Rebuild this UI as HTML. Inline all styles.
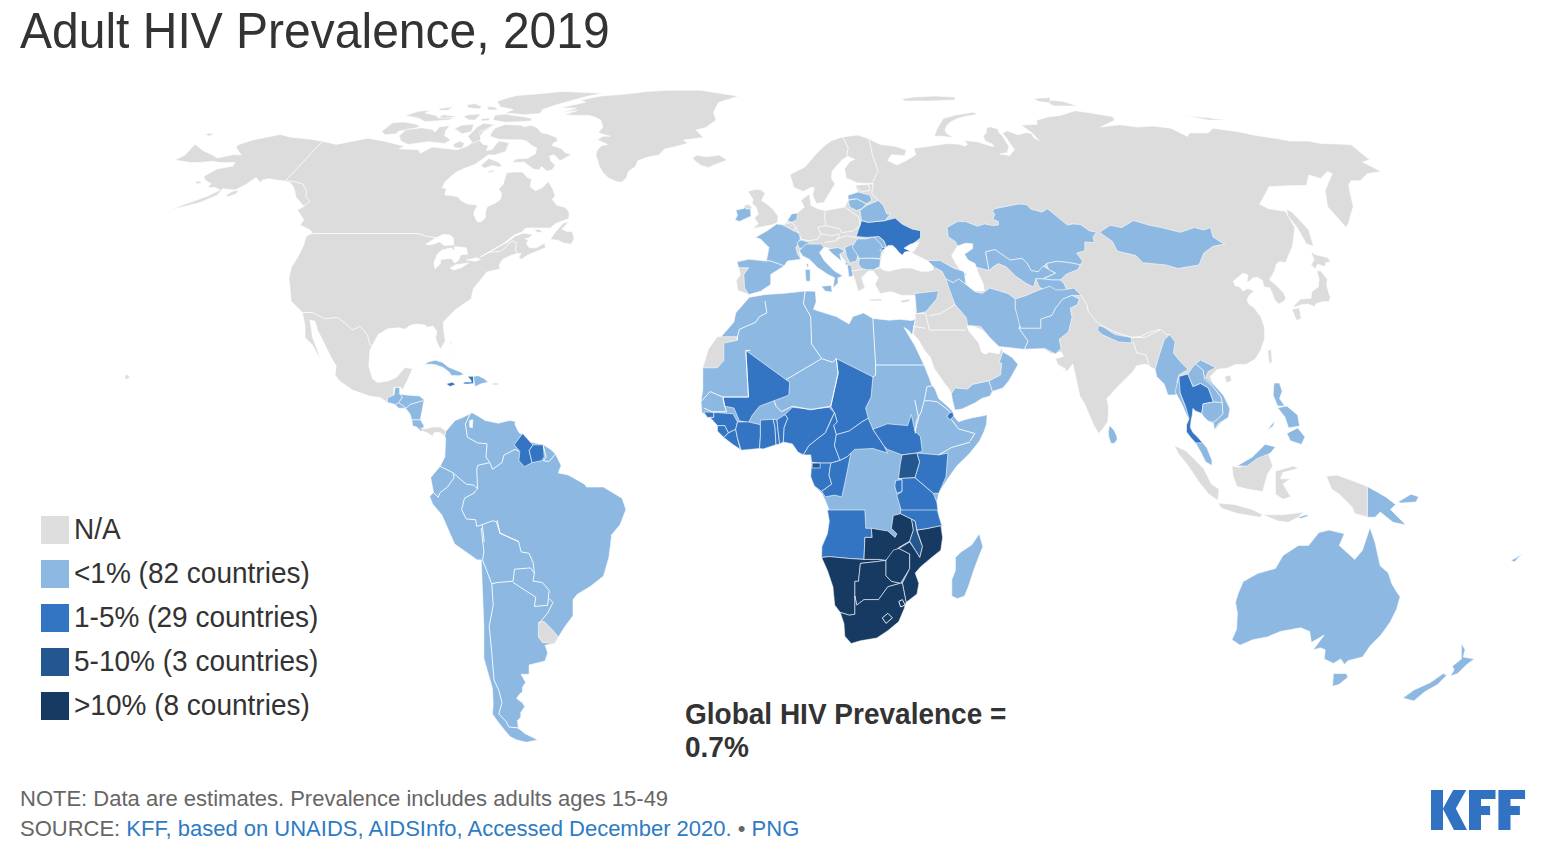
<!DOCTYPE html>
<html><head><meta charset="utf-8"><title>Adult HIV Prevalence, 2019</title><style>
html,body{margin:0;padding:0;background:#fff;width:1545px;height:864px;overflow:hidden;position:relative;font-family:"Liberation Sans",sans-serif}
.t{position:absolute;white-space:nowrap;line-height:1}
svg{position:absolute;left:0;top:0}
.sw{position:absolute;left:41px;width:28px;height:28px}
.lg{position:absolute;left:74px;font-size:28px;color:#333;white-space:nowrap;line-height:1;transform:scaleY(1.07);transform-origin:0 23.7px}
.ft{position:absolute;left:20px;font-size:22px;color:#666;white-space:nowrap;line-height:1;transform:scaleY(1.0);transform-origin:0 18.6px}
.ft a{color:#2d7bc4;text-decoration:none}
</style></head><body>
<svg width="1545" height="864" viewBox="0 0 1545 864">
<path d="M175.0,160.0L185.0,155.0L195.0,144.2L203.0,150.5L212.5,155.0L217.5,158.0L233.8,154.5L241.2,155.0L236.2,147.5L237.5,145.0L252.5,140.0L265.0,137.5L280.0,134.5L290.0,137.0L310.0,139.2L322.5,141.2L336.2,144.4L367.7,138.3L383.4,140.9L404.4,146.2L399.1,148.8L418.4,149.7L420.1,153.2L432.3,147.0L456.8,149.7L467.3,146.2L474.3,140.9L477.8,132.2L476.0,126.9L484.8,123.4L495.2,124.3L483.0,132.2L478.6,139.2L483.0,144.4L488.3,145.3L486.5,150.5L491.8,149.7L498.7,140.9L509.2,142.7L505.7,151.4L495.2,154.9L488.3,154.9L474.8,164.5L465.4,168.0L457.3,171.5L451.5,176.1L445.0,181.9L442.1,187.8L446.2,188.4L445.0,195.3L450.3,195.3L458.4,197.1L460.8,200.6L467.8,204.1L475.9,204.7L477.1,206.4L474.8,209.9L473.6,214.6L477.1,221.6L480.6,222.1L485.2,218.1L485.8,209.9L487.6,206.4L495.7,202.9L500.4,199.4L501.6,193.6L498.6,188.9L503.3,184.3L505.1,177.3L506.8,172.6L513.2,172.0L522.5,172.0L527.2,177.3L531.8,179.0L530.1,186.6L535.3,190.7L542.3,187.8L548.2,181.4L552.8,188.9L555.2,195.9L552.2,199.4L556.9,205.2L565.6,207.6L569.1,212.2L568.9,218.6L556.1,223.3L550.3,228.0L525.8,228.0L521.8,232.0L514.2,235.0L504.9,242.5L505.4,243.7L515.3,236.1L523.5,233.2L532.8,234.4L528.2,238.4L524.7,238.4L528.2,240.2L526.4,243.7L529.3,247.8L536.3,247.8L544.5,243.1L545.6,247.8L528.2,254.8L521.2,259.4L518.8,257.1L521.2,253.6L516.5,253.6L509.5,255.9L502.5,259.4L499.0,265.2L500.2,268.7L495.5,269.9L486.2,272.2L483.9,275.7L479.2,281.6L473.4,288.5L471.1,299.0L467.5,301.2L455.0,310.0L443.2,322.2L443.8,330.5L445.2,340.8L440.5,349.5L437.0,342.5L435.5,337.0L437.0,331.5L433.0,326.0L427.5,327.2L424.8,325.0L417.5,324.0L411.0,325.0L404.5,329.2L399.0,327.8L387.8,328.8L378.5,334.2L374.8,340.8L370.0,350.0L368.8,366.2L372.5,378.8L377.5,382.5L387.5,381.2L396.2,377.5L405.0,367.5L412.5,368.8L407.5,380.0L403.8,387.5L402.5,390.0L400.0,387.0L393.8,387.5L393.8,396.2L387.5,402.5L380.0,397.5L370.0,396.2L352.5,390.0L340.0,381.2L335.0,375.0L336.2,366.2L331.2,357.5L323.8,342.5L317.5,330.0L315.0,321.2L310.0,320.0L312.5,337.5L317.5,350.0L320.5,360.0L312.5,345.0L305.0,337.5L305.0,326.2L302.5,312.5L291.2,301.2L290.0,287.5L288.8,278.8L291.2,267.5L297.5,257.5L303.8,245.0L306.2,236.2L312.5,233.0L310.0,230.0L300.0,225.0L303.8,220.0L297.5,210.0L303.8,206.2L296.2,197.5L293.8,187.5L290.0,182.5L285.0,181.2L268.8,178.8L262.5,180.0L260.0,182.5L256.2,177.5L245.0,185.0L235.0,190.0L222.5,188.8L217.5,195.0L200.0,202.5L180.0,207.5L170.0,210.5L182.5,205.0L207.5,196.2L220.0,190.0L215.0,187.5L207.5,187.5L211.2,183.8L205.0,180.0L203.8,176.2L217.5,168.8L232.5,166.2L235.0,162.5L220.0,162.5L212.5,161.2L200.0,162.5L190.0,162.5Z" fill="#dcdcdc" stroke="#fff" stroke-width="0.6" stroke-linejoin="round"/>
<path d="M425.6,244.3L435.0,238.4L443.1,234.4L450.1,235.0L453.6,238.4L453.6,244.9L444.3,245.4L439.6,241.9L430.3,244.9Z" fill="#fff" stroke="#fff" stroke-width="0.6" stroke-linejoin="round"/>
<path d="M437.3,254.2L441.9,250.1L451.3,247.8L454.8,251.3L451.3,258.3L440.8,259.4L440.2,264.1L435.0,268.7L433.8,262.9Z" fill="#fff" stroke="#fff" stroke-width="0.6" stroke-linejoin="round"/>
<path d="M454.2,246.6L466.4,247.8L467.6,254.2L460.6,254.8L458.3,260.6L454.8,262.9L451.3,258.3L454.8,251.3Z" fill="#fff" stroke="#fff" stroke-width="0.6" stroke-linejoin="round"/>
<path d="M450.1,268.2L455.9,264.7L468.7,262.9L461.7,267.6L453.6,269.9Z" fill="#fff" stroke="#fff" stroke-width="0.6" stroke-linejoin="round"/>
<path d="M466.4,260.0L476.9,257.7L480.4,259.4L475.7,261.2Z" fill="#fff" stroke="#fff" stroke-width="0.6" stroke-linejoin="round"/>
<path d="M550.3,239.6L555.0,232.6L563.1,223.3L568.9,221.6L561.9,229.1L566.6,231.5L572.4,231.5L574.2,238.4L571.3,244.3L563.1,243.1L558.5,240.2Z" fill="#dcdcdc" stroke="#fff" stroke-width="0.6" stroke-linejoin="round"/>
<path d="M534.0,229.1L539.8,229.7L542.7,232.0L537.5,232.6Z" fill="#dcdcdc" stroke="#fff" stroke-width="0.6" stroke-linejoin="round"/>
<path d="M490.7,133.9L494.8,128.1L505.2,124.6L521.6,125.2L523.9,126.9L530.9,125.2L536.7,127.5L541.4,132.8L547.2,133.9L556.5,137.4L557.7,140.9L553.0,143.3L552.4,145.6L562.3,149.1L564.7,152.6L571.1,154.3L567.0,157.2L560.0,160.7L554.2,154.9L549.5,156.1L550.7,160.7L555.3,165.4L551.8,170.1L547.2,171.2L541.4,166.6L539.0,170.1L533.2,168.9L528.5,165.4L523.9,161.9L512.2,162.5L515.7,159.0L527.4,158.4L535.5,153.7L536.7,147.9L532.0,145.6L526.2,140.9L521.6,139.8L512.2,139.8L498.3,139.2L490.1,136.3Z" fill="#dcdcdc" stroke="#fff" stroke-width="0.6" stroke-linejoin="round"/>
<path d="M480.8,165.4L488.9,158.4L498.3,161.9L502.3,166.0L498.3,167.1L492.4,165.4L484.3,168.3Z" fill="#dcdcdc" stroke="#fff" stroke-width="0.6" stroke-linejoin="round"/>
<path d="M487.2,171.8L493.6,170.1L494.8,171.2L488.9,173.0Z" fill="#dcdcdc" stroke="#fff" stroke-width="0.6" stroke-linejoin="round"/>
<path d="M493.0,120.0L494.8,115.3L505.2,114.1L521.6,116.5L532.0,118.2L530.9,121.1L519.2,121.7L505.2,122.3Z" fill="#dcdcdc" stroke="#fff" stroke-width="0.6" stroke-linejoin="round"/>
<path d="M497.1,101.3L509.9,97.2L516.9,95.5L544.9,93.2L562.3,91.4L603.1,93.2L585.6,96.7L556.5,104.8L542.5,109.5L540.2,113.5L523.9,114.7L505.2,113.0L513.4,109.5L500.6,107.1Z" fill="#dcdcdc" stroke="#fff" stroke-width="0.6" stroke-linejoin="round"/>
<path d="M440.0,109.5L452.8,106.6L447.0,110.0Z" fill="#dcdcdc" stroke="#fff" stroke-width="0.6" stroke-linejoin="round"/>
<path d="M466.8,104.8L475.0,103.6L481.9,106.6L479.6,108.9L468.0,107.7Z" fill="#dcdcdc" stroke="#fff" stroke-width="0.6" stroke-linejoin="round"/>
<path d="M486.6,106.6L494.8,107.1L497.7,110.0L488.9,110.0Z" fill="#dcdcdc" stroke="#fff" stroke-width="0.6" stroke-linejoin="round"/>
<path d="M443.5,114.7L455.1,116.2L449.3,120.0L440.0,120.0L440.0,116.5Z" fill="#dcdcdc" stroke="#fff" stroke-width="0.6" stroke-linejoin="round"/>
<path d="M463.3,116.5L468.0,114.7L480.8,114.1L475.0,120.0L469.1,120.0Z" fill="#dcdcdc" stroke="#fff" stroke-width="0.6" stroke-linejoin="round"/>
<path d="M480.8,118.8L488.9,117.9L489.5,120.5L481.9,120.9Z" fill="#dcdcdc" stroke="#fff" stroke-width="0.6" stroke-linejoin="round"/>
<path d="M454.6,128.7L461.0,125.2L473.8,124.0L471.5,131.6L462.1,133.9Z" fill="#dcdcdc" stroke="#fff" stroke-width="0.6" stroke-linejoin="round"/>
<path d="M477.3,126.9L483.1,123.4L494.8,124.6L486.6,128.7L479.6,131.6L480.8,139.8L472.6,143.3L468.0,136.3Z" fill="#dcdcdc" stroke="#fff" stroke-width="0.6" stroke-linejoin="round"/>
<path d="M452.8,144.4L459.8,140.9L464.5,143.3L462.1,147.9L455.1,147.9Z" fill="#dcdcdc" stroke="#fff" stroke-width="0.6" stroke-linejoin="round"/>
<path d="M381.7,131.3L393.0,122.6L404.4,122.0L416.6,124.3L420.1,126.9L407.9,129.6L399.1,131.3L395.6,133.9L385.1,134.8Z" fill="#dcdcdc" stroke="#fff" stroke-width="0.6" stroke-linejoin="round"/>
<path d="M399.1,135.7L406.1,129.6L421.8,127.8L432.3,129.6L435.0,132.2L439.3,126.9L449.8,125.5L445.4,131.3L444.6,135.7L450.7,140.1L444.6,143.5L428.8,141.8L407.9,144.4L400.9,140.9Z" fill="#dcdcdc" stroke="#fff" stroke-width="0.6" stroke-linejoin="round"/>
<path d="M405.2,115.6L418.4,111.2L430.6,110.3L425.3,113.0L435.8,115.6L439.3,118.2L455.1,117.3L448.1,120.0L425.3,121.7L418.4,118.2Z" fill="#dcdcdc" stroke="#fff" stroke-width="0.6" stroke-linejoin="round"/>
<path d="M439.3,108.6L453.3,106.8L448.1,110.3L439.3,110.3Z" fill="#dcdcdc" stroke="#fff" stroke-width="0.6" stroke-linejoin="round"/>
<path d="M560.4,107.7L585.4,102.2L580.8,100.1L600.6,96.1L623.9,94.3L647.2,91.4L668.2,90.2L700.8,90.2L738.5,96.2L718.5,102.5L713.5,112.5L716.0,120.0L706.0,127.5L696.0,130.0L703.5,137.5L683.5,140.0L688.0,143.3L675.2,146.7L664.7,149.1L658.8,154.9L647.2,157.2L637.9,160.7L635.5,166.6L628.5,171.2L626.2,178.2L621.6,182.3L616.9,181.7L608.7,178.2L602.9,172.4L599.4,166.6L595.9,154.9L597.1,150.2L601.7,145.6L607.6,144.4L597.1,139.8L602.9,136.3L609.9,136.3L598.3,132.8L602.9,126.9L600.6,120.0L595.9,117.6L588.9,115.3L575.0,115.5L564.5,114.7L577.3,110.6L561.0,112.4L576.1,108.3Z" fill="#dcdcdc" stroke="#fff" stroke-width="0.6" stroke-linejoin="round"/>
<path d="M692.6,157.8L697.3,154.9L701.9,156.1L706.6,156.7L720.0,154.9L721.0,156.2L727.2,160.0L711.0,166.2L708.9,167.7L700.8,165.4L696.1,161.9Z" fill="#dcdcdc" stroke="#fff" stroke-width="0.6" stroke-linejoin="round"/>
<path d="M387.5,397.8L394.1,395.0L395.0,387.5L399.7,387.5L399.7,394.1L406.3,395.0L419.4,396.0L424.1,399.7L422.2,410.0L420.4,419.4L424.1,426.0L421.3,431.6L416.6,426.9L412.8,426.0L411.9,420.4L410.0,413.8L405.3,408.2L398.8,408.2L395.0,404.4L387.5,402.5Z" fill="#8cb8e1" stroke="#fff" stroke-width="0.6" stroke-linejoin="round"/>
<path d="M420.4,427.9L425.0,428.8L433.5,426.9L440.1,426.9L445.7,430.7L444.8,436.3L440.1,432.6L434.4,432.6L432.6,436.3L426.9,432.6L423.5,431.6Z" fill="#dcdcdc" stroke="#fff" stroke-width="0.6" stroke-linejoin="round"/>
<path d="M423.7,365.3L428.6,361.8L435.5,360.3L442.5,362.4L448.3,367.0L455.2,369.9L461.0,372.2L463.9,374.5L458.7,375.7L451.2,375.4L449.4,372.2L443.1,367.6L435.5,364.7L428.6,364.1Z" fill="#8cb8e1" stroke="#fff" stroke-width="0.6" stroke-linejoin="round"/>
<path d="M446.2,383.8L452.5,382.2L455.5,384.5L450.0,386.5Z" fill="#3375c3" stroke="#fff" stroke-width="0.6" stroke-linejoin="round"/>
<path d="M467.9,376.3L473.5,376.3L473.5,383.5L467.9,384.1L463.1,383.8L464.2,382.1L471.4,382.1L470.5,379.5L468.9,378.0Z" fill="#3375c3" stroke="#fff" stroke-width="0.6" stroke-linejoin="round"/>
<path d="M473.5,376.3L478.3,375.7L484.1,378.6L488.2,382.3L481.8,383.5L474.9,386.7Z" fill="#8cb8e1" stroke="#fff" stroke-width="0.6" stroke-linejoin="round"/>
<path d="M492.5,383.0L498.8,383.0L498.0,385.0L492.5,385.0Z" fill="#dcdcdc" stroke="#fff" stroke-width="0.6" stroke-linejoin="round"/>
<path d="M444.8,436.3L445.7,431.6L455.1,420.4L462.6,417.5L472.0,412.8L477.6,415.7L485.1,420.4L498.2,423.2L509.5,420.4L515.1,421.3L515.1,425.0L518.9,432.6L524.5,436.3L530.2,441.9L543.3,444.8L550.8,449.4L555.5,454.1L561.1,465.4L558.3,472.9L567.7,474.8L571.4,476.7L584.6,484.2L586.5,487.0L603.3,487.0L622.1,498.2L625.9,509.5L620.2,524.5L610.9,535.8L611.6,536.0L608.9,557.3L603.6,575.9L590.3,586.5L577.0,594.5L573.0,599.8L573.0,615.8L565.0,626.4L558.4,637.1L554.4,643.7L545.1,645.1L547.7,653.0L545.1,661.0L529.1,665.0L529.1,674.3L521.1,674.3L525.6,682.4L522.4,687.3L522.4,692.1L519.1,694.6L516.7,698.6L522.4,702.7L524.8,706.7L520.8,712.4L520.8,717.2L517.5,720.5L518.3,727.8L524.8,733.4L537.8,739.9L526.4,742.3L516.7,739.9L510.2,736.7L504.6,730.2L498.1,722.1L492.4,714.0L493.2,704.3L492.4,688.1L490.0,680.0L483.9,658.4L483.9,626.4L481.2,559.9L477.2,559.9L454.6,543.9L441.9,515.1L432.6,503.9L429.7,496.4L433.5,492.6L430.7,477.6L440.1,466.3L444.8,457.0L445.7,438.2Z" fill="#8cb8e1" stroke="#fff" stroke-width="0.6" stroke-linejoin="round"/>
<path d="M469.7,420.4L472.9,419.8L472.3,427.9L469.7,426.9Z" fill="#fff" stroke="#fff" stroke-width="0.6" stroke-linejoin="round"/>
<path d="M514.2,444.8L522.6,433.5L530.2,441.9L533.0,444.8L529.2,450.4L532.0,462.6L524.5,466.7L518.9,460.7L519.8,451.3Z" fill="#3375c3" stroke="#fff" stroke-width="0.6" stroke-linejoin="round"/>
<path d="M533.0,444.8L543.3,444.8L544.2,457.0L541.4,460.7L532.0,462.6L529.2,450.4Z" fill="#3375c3" stroke="#fff" stroke-width="0.6" stroke-linejoin="round"/>
<path d="M538.4,622.4L543.7,621.1L551.7,629.1L558.4,637.1L554.4,643.7L542.4,642.4L538.4,637.1Z" fill="#dcdcdc" stroke="#fff" stroke-width="0.6" stroke-linejoin="round"/>
<path d="M748.5,297.4L765.0,294.6L785.1,293.2L805.2,291.0L815.3,291.3L816.2,301.9L813.4,309.3L821.7,312.0L836.3,316.6L849.1,323.9L852.8,316.6L863.7,312.9L872.9,318.4L889.3,320.2L900.3,319.3L911.3,320.6L915.3,319.3L912.2,334.9L908.5,330.3L904.0,327.5L914.9,345.8L924.1,365.0L929.6,378.8L931.6,384.4L935.1,389.1L938.6,398.4L946.8,405.5L952.6,411.3L953.8,416.0L958.4,421.8L965.5,419.5L972.5,417.7L981.8,416.0L987.1,414.8L986.5,424.2L984.2,431.2L979.5,441.0L970.0,453.0L957.0,465.8L947.9,478.6L938.7,493.3L936.9,502.4L938.7,517.0L942.4,526.2L941.7,525.5L942.6,537.4L940.8,550.2L931.7,557.5L920.7,566.7L915.2,573.1L918.9,583.2L917.0,594.1L906.1,602.4L904.2,608.8L898.8,621.6L887.8,630.7L876.8,638.0L860.4,640.8L851.2,643.5L844.8,636.2L843.9,623.4L840.2,612.4L834.7,605.1L832.9,586.8L827.4,570.4L821.6,557.5L821.9,546.6L827.4,533.8L829.3,521.0L827.4,510.0L829.0,509.7L825.3,500.6L821.7,493.3L814.4,486.0L810.7,476.8L811.6,464.0L810.7,454.9L805.2,454.9L797.9,451.2L792.4,443.9L785.1,442.1L774.1,445.7L759.5,448.5L741.2,450.3L735.7,445.7L724.7,436.6L717.4,425.6L710.1,416.5L701.9,412.8L701.0,401.6L702.8,389.7L702.8,367.8L708.3,349.5L717.4,336.7L721.1,336.7L733.9,322.1L735.7,312.9L748.5,298.3Z" fill="#8cb8e1" stroke="#fff" stroke-width="0.6" stroke-linejoin="round"/>
<path d="M951.8,596.0L951.8,579.5L955.4,570.4L955.4,557.5L960.9,552.1L971.9,544.7L979.2,533.8L982.9,546.6L979.2,555.7L973.7,570.4L968.3,586.8L964.6,596.0L957.3,598.7Z" fill="#8cb8e1" stroke="#fff" stroke-width="0.6" stroke-linejoin="round"/>
<path d="M717.4,336.7L737.5,336.7L736.6,340.4L723.8,343.1L723.8,360.5L717.4,367.8L702.8,367.8L708.3,349.5Z" fill="#dcdcdc" stroke="#fff" stroke-width="0.6" stroke-linejoin="round"/>
<path d="M745.8,350.4L786.0,379.7L789.7,382.4L788.8,395.2L774.1,400.7L759.5,406.2L752.2,415.3L748.5,422.6L739.4,420.8L733.9,408.0L724.7,406.2L722.9,397.0L748.5,397.0Z" fill="#3375c3" stroke="#fff" stroke-width="0.6" stroke-linejoin="round"/>
<path d="M836.3,358.6L872.9,376.9L871.1,397.0L865.6,408.0L868.3,418.3L861.9,421.9L849.1,431.1L836.3,434.7L833.6,425.6L837.2,421.9L834.5,412.8L830.8,406.2L838.1,373.3Z" fill="#3375c3" stroke="#fff" stroke-width="0.6" stroke-linejoin="round"/>
<path d="M703.7,411.9L713.8,412.4L713.8,417.4L707.4,417.4Z" fill="#3375c3" stroke="#fff" stroke-width="0.6" stroke-linejoin="round"/>
<path d="M713.8,412.4L733.0,413.7L737.5,421.9L735.7,429.3L728.4,432.9L724.7,425.6L717.4,425.6L710.1,417.4L713.8,417.4Z" fill="#3375c3" stroke="#fff" stroke-width="0.6" stroke-linejoin="round"/>
<path d="M717.4,425.6L724.7,425.6L728.4,432.9L723.8,437.5L717.4,431.1Z" fill="#3375c3" stroke="#fff" stroke-width="0.6" stroke-linejoin="round"/>
<path d="M723.8,437.5L728.4,432.9L735.7,429.3L737.5,438.4L740.3,449.4L732.1,443.9Z" fill="#3375c3" stroke="#fff" stroke-width="0.6" stroke-linejoin="round"/>
<path d="M737.5,421.9L748.5,421.9L760.4,424.7L760.4,436.6L759.5,448.5L741.2,450.3L737.5,438.4L735.7,429.3Z" fill="#3375c3" stroke="#fff" stroke-width="0.6" stroke-linejoin="round"/>
<path d="M760.4,420.1L773.2,419.2L775.0,427.4L776.0,444.8L763.2,449.0L759.5,448.5L760.4,436.6Z" fill="#3375c3" stroke="#fff" stroke-width="0.6" stroke-linejoin="round"/>
<path d="M773.2,419.2L776.9,419.8L779.6,443.9L776.0,444.8L775.0,427.4Z" fill="#3375c3" stroke="#fff" stroke-width="0.6" stroke-linejoin="round"/>
<path d="M776.9,419.8L785.1,414.6L787.8,418.3L784.2,427.4L783.3,442.1L779.6,443.9Z" fill="#3375c3" stroke="#fff" stroke-width="0.6" stroke-linejoin="round"/>
<path d="M785.1,414.6L792.4,407.3L810.7,409.1L829.0,407.3L834.5,412.8L830.8,420.1L825.3,432.9L818.0,438.4L808.9,445.7L803.4,454.9L797.9,452.1L792.4,443.9L783.3,442.1L784.2,427.4L787.8,418.3Z" fill="#3375c3" stroke="#fff" stroke-width="0.6" stroke-linejoin="round"/>
<path d="M803.4,454.9L808.9,445.7L818.0,438.4L825.3,432.9L834.5,412.8L837.2,421.9L833.6,425.6L836.3,434.7L834.5,445.7L840.0,460.4L830.8,463.1L818.0,463.1L811.6,462.2L810.7,454.9L805.2,454.9Z" fill="#3375c3" stroke="#fff" stroke-width="0.6" stroke-linejoin="round"/>
<path d="M836.3,434.7L849.1,431.1L861.9,421.9L868.3,418.3L872.9,429.3L883.9,445.7L887.5,453.0L872.9,448.5L854.6,449.4L847.3,456.7L840.0,460.4L834.5,445.7Z" fill="#3375c3" stroke="#fff" stroke-width="0.6" stroke-linejoin="round"/>
<path d="M872.9,429.3L887.5,423.8L907.6,425.6L911.3,414.6L914.9,431.1L920.4,436.6L922.3,451.2L916.8,453.0L902.1,454.9L887.5,449.4L883.9,445.7Z" fill="#3375c3" stroke="#fff" stroke-width="0.6" stroke-linejoin="round"/>
<path d="M916.8,453.0L938.7,454.9L947.9,453.0L946.0,476.8L938.7,493.3L933.2,493.3L914.9,477.7L919.5,462.2Z" fill="#3375c3" stroke="#fff" stroke-width="0.6" stroke-linejoin="round"/>
<path d="M902.1,454.9L916.8,453.0L919.5,462.2L914.9,477.7L898.5,478.6L900.3,464.0Z" fill="#24578f" stroke="#fff" stroke-width="0.6" stroke-linejoin="round"/>
<path d="M895.7,480.5L902.1,479.6L902.1,491.4L896.7,493.3L894.8,486.0Z" fill="#3375c3" stroke="#fff" stroke-width="0.6" stroke-linejoin="round"/>
<path d="M898.5,478.6L914.9,477.7L933.2,493.3L936.9,502.4L938.7,517.0L942.4,526.2L920.4,529.8L913.1,524.4L902.1,513.4L896.7,495.1L902.1,491.4L902.1,479.6Z" fill="#3375c3" stroke="#fff" stroke-width="0.6" stroke-linejoin="round"/>
<path d="M811.6,463.1L830.8,463.1L829.0,475.0L831.7,484.1L821.7,491.4L814.4,486.0L810.7,476.8Z" fill="#3375c3" stroke="#fff" stroke-width="0.6" stroke-linejoin="round"/>
<path d="M830.8,463.1L840.0,460.4L847.3,456.7L850.9,453.0L845.4,480.5L841.8,496.9L834.5,495.1L825.3,496.9L821.7,491.4L831.7,484.1L829.0,475.0Z" fill="#3375c3" stroke="#fff" stroke-width="0.6" stroke-linejoin="round"/>
<path d="M812.2,463.1L820.2,463.1L820.2,468.0L812.2,468.0Z" fill="#24578f" stroke="#fff" stroke-width="0.6" stroke-linejoin="round"/>
<path d="M827.4,510.0L864.9,510.0L865.8,528.3L871.3,528.3L872.2,537.4L864.9,537.4L864.0,559.4L849.4,558.5L829.3,556.6L821.6,557.5L821.9,546.6L827.4,533.8L829.3,521.0Z" fill="#3375c3" stroke="#fff" stroke-width="0.6" stroke-linejoin="round"/>
<path d="M821.6,557.5L829.3,556.6L849.4,558.5L864.0,559.4L878.6,559.4L886.0,560.3L876.8,561.6L860.4,563.4L858.5,581.3L854.9,581.3L854.9,596.0L854.9,614.2L849.4,615.2L840.2,612.4L834.7,605.1L832.9,586.8L827.4,570.4Z" fill="#163a62" stroke="#fff" stroke-width="0.6" stroke-linejoin="round"/>
<path d="M860.4,563.4L876.8,561.6L886.0,560.3L886.0,575.8L891.4,581.3L900.6,583.2L887.8,586.8L878.6,599.6L864.0,599.6L856.7,605.1L854.9,596.0L854.9,581.3L858.5,581.3Z" fill="#163a62" stroke="#fff" stroke-width="0.6" stroke-linejoin="round"/>
<path d="M864.9,537.4L872.2,537.4L871.3,528.3L887.8,531.0L895.1,537.4L896.9,533.8L891.4,528.3L893.3,515.5L900.6,513.7L911.6,519.1L913.4,530.1L909.7,541.1L898.8,547.5L886.0,560.3L878.6,559.4L864.0,559.4Z" fill="#163a62" stroke="#fff" stroke-width="0.6" stroke-linejoin="round"/>
<path d="M886.0,560.3L893.3,550.2L898.8,548.4L909.7,553.9L909.7,568.5L900.6,583.2L891.4,581.3L886.0,575.8Z" fill="#163a62" stroke="#fff" stroke-width="0.6" stroke-linejoin="round"/>
<path d="M911.6,519.1L915.2,521.0L917.0,531.9L922.5,546.6L919.8,557.5L915.2,550.2L909.7,541.1L913.4,530.1Z" fill="#24578f" stroke="#fff" stroke-width="0.6" stroke-linejoin="round"/>
<path d="M917.0,530.1L928.0,528.3L940.8,525.5L942.6,537.4L940.8,550.2L931.7,557.5L920.7,566.7L915.2,573.1L918.9,583.2L917.0,594.1L906.1,602.4L902.4,583.2L909.7,568.5L909.7,553.9L898.8,548.4L909.7,542.0L915.2,550.2L919.8,557.5L922.5,546.6Z" fill="#163a62" stroke="#fff" stroke-width="0.6" stroke-linejoin="round"/>
<path d="M840.2,612.4L849.4,615.2L854.9,614.2L854.9,596.0L856.7,605.1L864.0,599.6L878.6,599.6L887.8,586.8L900.6,583.2L902.4,583.2L906.1,602.4L904.2,608.8L898.8,621.6L887.8,630.7L876.8,638.0L860.4,640.8L851.2,643.5L844.8,636.2L843.9,623.4Z" fill="#163a62" stroke="#fff" stroke-width="0.6" stroke-linejoin="round"/>
<path d="M900.6,510.0L937.2,510.0L941.7,525.5L928.0,528.3L917.0,530.1L915.2,521.0L911.6,519.1L900.6,513.7Z" fill="#3375c3" stroke="#fff" stroke-width="0.6" stroke-linejoin="round"/>
<path d="M946.8,417.1L949.1,413.0L952.6,411.9L953.8,416.0L950.3,419.5Z" fill="#3375c3" stroke="#fff" stroke-width="0.6" stroke-linejoin="round"/>
<path d="M748.8,294.6L737.9,290.4L736.2,281.2L740.4,274.4L738.7,267.7L737.0,261.8L748.8,259.3L765.6,261.0L769.0,247.5L760.6,239.1L755.5,237.4L767.3,230.7L776.6,224.0L782.5,224.8L787.5,221.4L791.7,213.9L797.6,213.0L804.3,207.1L801.0,200.4L809.4,193.7L811.1,205.4L817.8,208.8L825.4,210.5L844.7,207.1L848.1,200.4L848.1,195.3L858.2,192.0L854.8,185.2L868.3,184.4L873.3,183.6L857.6,182.9L846.3,178.2L844.5,168.8L850.1,161.3L854.8,159.4L848.2,156.6L842.6,159.4L832.3,170.7L831.3,178.2L835.1,183.8L829.4,193.2L823.8,202.6L816.3,203.6L812.6,195.1L814.4,187.6L810.7,187.6L803.2,191.4L793.8,187.6L790.0,174.5L805.0,167.0L816.3,153.8L823.8,146.3L831.3,140.7L842.6,136.9L857.6,135.0L868.9,138.8L880.1,144.4L895.1,146.3L906.4,150.1L904.5,155.7L891.4,154.8L887.6,160.4L897.0,165.1L906.4,160.4L915.8,154.8L913.9,148.2L928.9,146.3L947.7,143.5L959.4,144.2L965.1,146.2L967.6,144.2L964.3,140.5L977.3,141.7L988.6,145.4L993.5,146.6L992.7,144.2L985.4,141.3L982.9,135.7L986.2,133.2L986.2,128.4L990.2,126.7L998.3,129.2L998.8,132.4L1002.4,135.7L1005.6,141.3L1008.9,146.2L1007.3,152.7L1000.0,153.9L1009.7,155.5L1014.6,149.4L1011.3,145.4L1006.5,138.1L1002.4,133.2L1007.3,130.8L1017.8,134.8L1027.5,132.4L1032.4,134.0L1033.2,137.3L1038.9,140.5L1032.4,133.2L1021.0,125.1L1037.2,124.3L1036.4,120.3L1047.8,117.0L1060.0,115.4L1075.1,110.7L1091.4,113.1L1112.5,116.6L1114.8,120.1L1100.8,127.1L1119.5,124.7L1138.2,127.1L1152.2,125.9L1170.9,128.2L1187.3,136.4L1189.6,132.9L1208.3,132.9L1213.0,128.2L1238.7,131.8L1255.1,135.3L1278.4,138.8L1290.1,141.1L1308.8,141.1L1320.5,143.4L1350.9,144.6L1369.6,159.8L1362.6,162.1L1381.3,171.5L1367.3,173.8L1360.2,180.8L1350.9,180.8L1348.6,185.5L1353.2,206.6L1348.6,222.9L1346.2,227.6L1327.5,206.6L1325.2,190.2L1332.2,173.8L1327.5,171.5L1320.5,178.5L1308.8,175.0L1306.5,185.5L1292.5,185.5L1269.1,186.7L1259.7,204.2L1269.1,208.9L1285.4,211.2L1294.8,227.6L1292.5,246.3L1285.4,262.7L1279.4,261.5L1276.2,264.3L1274.6,270.8L1272.1,275.6L1269.7,278.9L1270.5,280.5L1275.0,284.1L1279.4,288.6L1283.5,292.7L1285.9,298.3L1283.5,301.6L1278.6,304.0L1274.6,299.9L1272.1,292.7L1269.7,287.8L1264.0,287.0L1262.4,280.5L1257.5,277.3L1252.7,278.1L1249.4,281.3L1247.0,282.1L1247.8,274.8L1243.0,273.2L1238.1,277.3L1233.2,281.3L1234.9,285.4L1239.7,287.0L1243.0,291.0L1247.8,288.6L1254.3,291.0L1249.4,295.1L1247.0,299.9L1248.6,304.0L1253.5,307.2L1260.9,316.8L1264.6,327.8L1264.6,338.8L1260.9,349.7L1255.4,358.9L1246.3,364.4L1235.3,364.4L1228.0,368.0L1217.3,369.4L1210.0,376.7L1213.6,384.0L1224.6,396.8L1230.1,411.4L1224.6,418.8L1215.4,429.7L1213.6,424.2L1208.2,421.1L1203.1,416.0L1201.8,413.5L1195.5,410.9L1192.9,408.4L1192.3,414.7L1191.0,421.1L1190.4,427.5L1192.9,432.5L1198.0,437.6L1202.5,442.7L1206.9,447.8L1212.0,460.5L1212.0,465.6L1205.6,461.8L1200.5,451.6L1195.5,444.0L1190.4,437.6L1186.5,431.9L1186.5,424.9L1189.1,418.5L1184.0,403.3L1178.9,393.1L1175.2,395.0L1167.9,395.0L1164.2,384.0L1156.9,376.7L1155.1,369.4L1149.6,366.6L1146.0,363.9L1136.8,365.7L1133.2,371.2L1124.0,380.4L1114.9,389.5L1110.8,394.6L1106.8,398.6L1108.5,406.0L1108.5,414.0L1107.7,422.0L1101.9,430.1L1098.6,433.4L1093.8,425.2L1089.6,415.6L1084.9,404.3L1079.9,396.3L1076.5,380.4L1072.8,363.9L1067.3,371.2L1060.0,367.5L1066.0,369.2L1057.8,364.5L1055.4,358.7L1063.6,356.4L1061.3,351.7L1051.9,354.0L1044.9,349.4L1034.4,348.8L1023.9,349.4L1011.0,348.2L1002.9,343.5L991.6,339.2L982.4,330.1L971.4,325.5L966.9,326.4L969.6,331.9L978.8,342.9L981.5,352.0L985.2,353.9L989.7,352.0L998.9,353.9L1001.6,347.5L1002.9,351.7L1012.2,357.5L1018.0,364.5L1012.2,375.1L1008.7,380.9L1002.9,387.9L992.3,391.4L990.0,396.1L981.8,398.4L974.8,403.1L961.9,409.0L954.9,410.1L952.6,400.8L951.4,393.8L949.1,389.1L944.4,383.2L939.7,376.2L933.9,368.1L930.4,357.5L924.5,350.5L918.7,340.0L913.1,334.0L915.3,319.3L915.3,307.4L916.8,298.3L915.7,295.4L901.9,295.4L891.0,291.7L880.0,293.5L875.0,284.5L878.4,277.8L873.3,271.1L868.3,271.1L861.6,277.8L864.9,287.9L858.2,291.3L854.8,279.5L851.5,271.1L848.9,277.0L847.3,264.3L839.7,254.2L831.3,249.2L826.2,247.5L823.7,247.5L819.5,252.6L824.5,261.0L834.6,271.1L843.0,276.1L838.0,277.8L838.0,282.9L833.0,287.9L834.6,277.8L827.9,274.4L817.8,267.7L809.4,259.3L802.7,255.9L799.3,250.9L801.0,259.3L787.5,261.0L784.1,266.0L770.7,274.4L770.7,284.5L760.6,291.3Z" fill="#dcdcdc" stroke="#fff" stroke-width="0.6" stroke-linejoin="round"/>
<path d="M880.5,262.4L882.1,254.3L885.4,248.6L888.6,245.4L892.7,245.4L895.9,248.6L900.0,253.5L902.4,255.1L904.8,251.9L908.1,250.3L911.3,251.9L912.9,253.5L921.0,257.6L927.5,260.8L932.4,264.0L934.0,268.9L929.1,271.3L921.0,271.3L911.3,268.1L903.2,268.1L895.1,269.7L888.6,271.3L882.1,269.7L879.7,266.5Z" fill="#fff" stroke="#fff" stroke-width="0.6" stroke-linejoin="round"/>
<path d="M904.0,248.2L907.3,245.8L912.9,243.8L919.4,242.2L917.0,246.2L914.6,250.3L912.1,252.3L909.7,251.5L906.5,250.7Z" fill="#fff" stroke="#fff" stroke-width="0.6" stroke-linejoin="round"/>
<path d="M951.7,255.5L957.5,246.1L965.7,243.2L972.7,243.8L972.7,248.4L964.5,254.3L968.1,260.1L975.1,263.6L976.2,267.1L978.6,274.2L983.2,283.5L984.4,291.0L963.4,291.0L962.2,281.2L966.9,274.2L959.9,269.5L955.2,262.5Z" fill="#fff" stroke="#fff" stroke-width="0.6" stroke-linejoin="round"/>
<path d="M735.9,210.0L743.8,208.4L745.8,205.0L750.5,206.9L751.0,216.2L745.8,218.5L739.6,221.5L734.9,219.9L737.5,215.2Z" fill="#8cb8e1" stroke="#fff" stroke-width="0.6" stroke-linejoin="round"/>
<path d="M743.8,205.8L747.9,204.3L752.1,206.9L751.0,209.0L745.8,209.0Z" fill="#dcdcdc" stroke="#fff" stroke-width="0.6" stroke-linejoin="round"/>
<path d="M747.9,191.2L756.2,189.2L760.9,189.7L765.1,193.3L761.5,200.6L766.7,203.8L772.9,209.0L778.1,216.2L777.6,222.5L772.9,224.6L762.5,226.7L752.6,228.8L758.3,223.5L756.2,220.4L754.2,218.3L758.3,214.2L756.2,206.9L752.1,203.8L753.1,199.6L749.0,193.3Z" fill="#dcdcdc" stroke="#fff" stroke-width="0.6" stroke-linejoin="round"/>
<path d="M805.2,269.4L810.2,269.4L810.2,281.2L806.0,281.2Z" fill="#8cb8e1" stroke="#fff" stroke-width="0.6" stroke-linejoin="round"/>
<path d="M806.0,263.5L808.5,264.3L807.7,268.5Z" fill="#8cb8e1" stroke="#fff" stroke-width="0.6" stroke-linejoin="round"/>
<path d="M821.2,286.2L831.3,285.4L832.1,292.1L825.4,291.3Z" fill="#8cb8e1" stroke="#fff" stroke-width="0.6" stroke-linejoin="round"/>
<path d="M787.5,220.6L791.7,213.9L797.6,213.0L796.8,219.7L791.7,222.3Z" fill="#8cb8e1" stroke="#fff" stroke-width="0.6" stroke-linejoin="round"/>
<path d="M755.5,237.4L767.3,230.7L776.6,224.0L782.5,224.8L793.4,230.7L801.0,234.0L799.3,242.5L795.9,247.5L797.6,254.2L801.0,259.3L787.5,261.0L784.1,266.0L770.7,261.0L766.5,261.0L769.0,247.5L760.6,239.1Z" fill="#8cb8e1" stroke="#fff" stroke-width="0.6" stroke-linejoin="round"/>
<path d="M737.0,261.8L748.8,259.3L765.6,261.0L770.7,261.0L784.1,266.0L770.7,274.4L770.7,284.5L760.6,291.3L748.8,294.6L744.6,287.9L743.8,274.4L748.8,267.7L738.7,267.7Z" fill="#8cb8e1" stroke="#fff" stroke-width="0.6" stroke-linejoin="round"/>
<path d="M796.8,242.5L801.0,239.9L809.4,242.5L807.7,247.5L799.3,248.4Z" fill="#8cb8e1" stroke="#fff" stroke-width="0.6" stroke-linejoin="round"/>
<path d="M799.3,250.9L806.0,244.1L821.2,244.1L823.7,247.5L819.5,252.6L824.5,261.0L834.6,271.1L843.0,276.1L838.0,277.8L838.0,282.9L833.0,287.9L834.6,277.8L827.9,274.4L817.8,267.7L809.4,259.3L802.7,255.9Z" fill="#8cb8e1" stroke="#fff" stroke-width="0.6" stroke-linejoin="round"/>
<path d="M827.9,249.2L838.0,247.5L844.7,250.9L839.7,254.2L841.4,261.0L833.0,254.2Z" fill="#8cb8e1" stroke="#fff" stroke-width="0.6" stroke-linejoin="round"/>
<path d="M844.7,247.5L853.1,244.1L858.2,254.2L856.5,261.0L849.8,262.7L846.4,255.9Z" fill="#8cb8e1" stroke="#fff" stroke-width="0.6" stroke-linejoin="round"/>
<path d="M844.7,261.0L848.1,263.5L846.4,266.0Z" fill="#8cb8e1" stroke="#fff" stroke-width="0.6" stroke-linejoin="round"/>
<path d="M847.3,264.3L851.5,266.0L853.1,276.1L848.9,277.0Z" fill="#8cb8e1" stroke="#fff" stroke-width="0.6" stroke-linejoin="round"/>
<path d="M859.4,258.4L870.0,258.0L880.5,259.2L879.7,266.5L874.0,269.7L866.7,269.7L861.1,268.1L858.6,264.0Z" fill="#8cb8e1" stroke="#fff" stroke-width="0.6" stroke-linejoin="round"/>
<path d="M852.2,247.0L857.0,238.9L865.9,238.9L874.0,236.9L880.5,238.9L885.4,246.2L883.8,249.4L881.3,251.9L880.5,258.4L870.0,258.0L859.4,258.4L857.0,254.3Z" fill="#8cb8e1" stroke="#fff" stroke-width="0.6" stroke-linejoin="round"/>
<path d="M874.0,236.9L878.9,236.5L883.8,240.5L886.2,246.2L883.8,249.4L880.5,243.8L877.3,240.5Z" fill="#8cb8e1" stroke="#fff" stroke-width="0.6" stroke-linejoin="round"/>
<path d="M856.5,235.7L861.6,220.6L868.3,222.3L885.1,220.6L895.2,218.1L902.0,224.0L912.0,229.0L920.5,230.7L920.5,239.1L913.7,243.3L920.2,238.1L916.2,242.2L909.7,244.6L904.0,248.2L910.5,251.2L904.8,251.9L902.4,255.1L900.0,253.5L895.9,248.6L892.7,245.4L888.6,245.4L886.2,247.0L882.1,247.8L879.7,250.7L883.8,249.4L886.2,246.2L883.8,240.5L878.9,236.5L874.0,236.9L866.6,237.4L856.5,236.6Z" fill="#3375c3" stroke="#fff" stroke-width="0.6" stroke-linejoin="round"/>
<path d="M859.9,210.5L866.6,205.4L878.4,200.4L883.4,205.4L886.8,213.9L890.2,213.9L885.1,220.6L868.3,222.3L861.6,220.6Z" fill="#8cb8e1" stroke="#fff" stroke-width="0.6" stroke-linejoin="round"/>
<path d="M848.1,200.4L856.5,198.7L866.6,203.8L861.6,208.8L856.5,210.5L849.8,207.1Z" fill="#8cb8e1" stroke="#fff" stroke-width="0.6" stroke-linejoin="round"/>
<path d="M848.1,195.3L858.2,192.0L870.0,195.3L871.7,200.4L866.6,203.8L856.5,198.7L848.1,199.5Z" fill="#8cb8e1" stroke="#fff" stroke-width="0.6" stroke-linejoin="round"/>
<path d="M927.5,260.8L937.2,262.4L942.1,264.0L948.6,268.1L951.8,271.3L945.3,270.5L937.2,268.9L934.0,268.9L932.4,264.0Z" fill="#8cb8e1" stroke="#fff" stroke-width="0.6" stroke-linejoin="round"/>
<path d="M942.1,271.3L951.8,271.3L960.0,275.4L960.0,281.9L953.5,281.9L947.8,278.6L944.5,275.4Z" fill="#8cb8e1" stroke="#fff" stroke-width="0.6" stroke-linejoin="round"/>
<path d="M947.0,227.4L957.5,221.6L965.7,221.6L977.4,226.2L984.4,223.9L992.6,225.6L998.4,225.1L998.4,221.6L992.6,219.2L994.9,214.5L992.6,211.0L994.9,208.7L1018.3,204.0L1026.5,204.6L1031.2,209.3L1038.2,211.0L1041.7,212.2L1047.5,208.7L1067.4,225.1L1073.2,223.9L1080.3,224.5L1089.6,230.9L1096.6,232.1L1093.1,236.8L1094.3,242.6L1084.9,242.0L1084.9,250.8L1076.7,253.1L1082.6,261.3L1080.3,264.8L1068.6,262.5L1056.9,261.3L1046.4,263.6L1038.2,271.8L1031.2,270.6L1026.5,262.5L1021.8,258.4L1010.1,260.1L994.9,249.6L985.6,251.9L989.1,270.6L976.2,267.1L975.1,263.6L968.1,260.1L964.5,254.3L972.7,248.4L972.7,243.8L965.7,243.2L957.5,246.1L955.2,241.4L948.2,236.8Z" fill="#8cb8e1" stroke="#fff" stroke-width="0.6" stroke-linejoin="round"/>
<path d="M985.6,251.9L994.9,249.6L1010.1,260.1L1021.8,258.4L1026.5,262.5L1031.2,270.6L1038.2,271.8L1042.9,266.0L1048.7,269.5L1055.7,273.0L1047.5,276.5L1042.9,278.8L1035.8,278.8L1033.5,287.0L1026.5,283.5L1016.0,276.5L1011.3,271.8L1006.6,267.1L998.4,263.6L992.6,267.1L989.1,270.6Z" fill="#8cb8e1" stroke="#fff" stroke-width="0.6" stroke-linejoin="round"/>
<path d="M1046.4,263.6L1056.9,261.3L1068.6,262.5L1080.3,264.8L1077.9,269.5L1066.2,274.2L1060.4,280.0L1052.2,280.0L1042.9,278.8L1048.7,276.5L1055.7,273.0L1048.7,269.5Z" fill="#8cb8e1" stroke="#fff" stroke-width="0.6" stroke-linejoin="round"/>
<path d="M1042.9,278.8L1052.2,280.0L1060.4,280.0L1063.9,283.5L1067.4,291.0L1051.0,291.0L1045.2,291.0L1039.3,287.0L1035.8,278.8Z" fill="#8cb8e1" stroke="#fff" stroke-width="0.6" stroke-linejoin="round"/>
<path d="M1099.6,232.3L1110.1,225.3L1121.8,227.6L1133.5,220.6L1149.9,225.3L1161.6,227.6L1180.3,232.3L1194.3,227.6L1203.6,229.9L1210.6,227.6L1213.0,236.9L1220.0,241.6L1224.7,244.0L1213.0,246.3L1203.6,253.3L1199.0,265.0L1177.9,268.5L1166.2,265.0L1142.9,262.7L1135.8,255.6L1117.1,251.0L1112.5,241.6Z" fill="#8cb8e1" stroke="#fff" stroke-width="0.6" stroke-linejoin="round"/>
<path d="M945.8,278.9L953.2,282.5L958.6,278.9L966.0,284.4L975.1,291.7L982.4,293.5L989.7,288.0L1008.0,293.5L1015.3,299.0L1015.3,308.2L1020.8,322.8L1019.0,328.3L1028.1,341.1L1024.5,349.3L998.9,346.6L989.7,337.4L980.6,326.4L967.8,325.5L966.0,317.3L955.0,304.5L949.5,289.9Z" fill="#8cb8e1" stroke="#fff" stroke-width="0.6" stroke-linejoin="round"/>
<path d="M1015.3,299.0L1026.3,295.4L1039.1,289.9L1050.1,286.2L1055.6,289.9L1062.9,289.9L1073.9,288.0L1081.2,295.4L1072.0,295.4L1062.9,299.0L1055.6,308.2L1051.9,315.5L1040.9,319.1L1040.9,328.3L1020.8,328.3L1019.0,322.8L1015.3,308.2Z" fill="#8cb8e1" stroke="#fff" stroke-width="0.6" stroke-linejoin="round"/>
<path d="M1020.8,328.3L1040.9,328.3L1040.9,319.1L1051.9,315.5L1055.6,308.2L1062.9,299.0L1072.0,295.4L1079.3,299.0L1077.5,304.5L1070.2,308.2L1072.0,317.3L1068.4,331.9L1059.2,339.2L1061.1,348.4L1055.6,353.9L1044.6,348.4L1024.5,349.3L1028.1,341.1L1019.0,328.3Z" fill="#8cb8e1" stroke="#fff" stroke-width="0.6" stroke-linejoin="round"/>
<path d="M914.7,293.5L938.5,290.8L936.7,299.0L925.7,311.8L916.6,313.6L915.7,302.7Z" fill="#8cb8e1" stroke="#fff" stroke-width="0.6" stroke-linejoin="round"/>
<path d="M927.5,260.6L940.4,260.6L953.2,267.9L964.1,271.6L966.0,284.4L958.6,278.9L953.2,282.5L945.8,278.9L942.2,271.6L933.0,266.1Z" fill="#8cb8e1" stroke="#fff" stroke-width="0.6" stroke-linejoin="round"/>
<path d="M1002.9,351.7L1012.2,357.5L1018.0,364.5L1012.2,375.1L1008.7,380.9L1002.9,387.9L992.3,391.4L988.8,380.9L1000.5,375.1L1001.7,363.4L999.3,362.2Z" fill="#8cb8e1" stroke="#fff" stroke-width="0.6" stroke-linejoin="round"/>
<path d="M992.3,391.4L990.0,396.1L981.8,398.4L974.8,403.1L961.9,409.0L954.9,410.1L952.6,400.8L951.4,393.8L954.9,387.9L967.8,389.1L972.5,384.4L988.8,380.9Z" fill="#8cb8e1" stroke="#fff" stroke-width="0.6" stroke-linejoin="round"/>
<path d="M1098.4,325.5L1103.9,327.3L1114.9,334.6L1131.3,337.4L1131.3,342.9L1118.5,341.9L1102.1,334.6L1097.5,330.1Z" fill="#8cb8e1" stroke="#fff" stroke-width="0.6" stroke-linejoin="round"/>
<path d="M1109.6,425.3L1114.0,430.2L1116.8,435.9L1117.2,439.9L1114.0,443.6L1110.8,443.2L1108.7,436.7L1108.3,431.8Z" fill="#8cb8e1" stroke="#fff" stroke-width="0.6" stroke-linejoin="round"/>
<path d="M1155.1,369.4L1158.8,356.6L1164.2,340.1L1169.7,334.6L1175.2,341.9L1173.4,352.9L1180.7,362.1L1188.0,369.4L1178.9,374.9L1177.0,382.2L1180.7,389.5L1175.2,395.0L1167.9,395.0L1164.2,384.0L1156.9,376.7Z" fill="#8cb8e1" stroke="#fff" stroke-width="0.6" stroke-linejoin="round"/>
<path d="M1175.1,391.8L1178.9,376.5L1187.8,374.0L1180.2,393.1L1185.3,405.8L1190.4,417.3L1189.1,419.8L1186.5,414.7L1181.5,403.3Z" fill="#8cb8e1" stroke="#fff" stroke-width="0.6" stroke-linejoin="round"/>
<path d="M1195.5,363.8L1200.5,360.0L1215.8,367.6L1208.2,371.5L1205.6,377.8L1214.5,385.5L1223.5,395.6L1229.8,408.4L1228.5,417.3L1218.4,423.6L1214.5,430.0L1213.3,422.4L1218.4,418.5L1222.8,413.5L1222.2,402.0L1220.9,396.9L1212.0,385.5L1204.4,379.1L1203.1,370.2Z" fill="#8cb8e1" stroke="#fff" stroke-width="0.6" stroke-linejoin="round"/>
<path d="M1187.8,374.0L1192.3,367.6L1195.5,363.8L1203.1,370.2L1204.4,379.1L1212.0,385.5L1220.9,396.9L1222.2,402.6L1213.3,402.0L1208.2,388.0L1200.5,383.5L1192.9,386.7Z" fill="#8cb8e1" stroke="#fff" stroke-width="0.6" stroke-linejoin="round"/>
<path d="M1178.9,376.5L1187.8,374.0L1192.9,386.7L1200.5,383.5L1208.2,388.0L1213.3,402.0L1203.1,403.9L1201.8,413.5L1195.5,410.9L1192.9,408.4L1192.3,414.7L1191.0,421.1L1190.4,427.5L1192.9,432.5L1198.0,437.6L1202.5,442.7L1200.5,445.5L1195.5,442.7L1190.4,437.0L1186.5,431.9L1186.5,424.9L1189.1,418.5L1185.3,405.8L1180.2,393.1Z" fill="#3375c3" stroke="#fff" stroke-width="0.6" stroke-linejoin="round"/>
<path d="M1203.1,403.9L1213.3,402.0L1222.2,402.6L1222.8,413.5L1218.4,418.5L1213.3,422.4L1208.2,421.1L1203.1,416.0L1201.8,413.5Z" fill="#8cb8e1" stroke="#fff" stroke-width="0.6" stroke-linejoin="round"/>
<path d="M1195.5,443.0L1202.5,442.7L1206.9,447.8L1212.0,460.5L1212.0,465.6L1205.6,461.8L1200.5,451.6Z" fill="#8cb8e1" stroke="#fff" stroke-width="0.6" stroke-linejoin="round"/>
<path d="M1224.6,376.7L1230.1,374.9L1231.9,380.4L1226.4,383.1Z" fill="#dcdcdc" stroke="#fff" stroke-width="0.6" stroke-linejoin="round"/>
<path d="M1267.6,351.1L1271.2,349.3L1272.1,362.1L1269.4,363.9Z" fill="#dcdcdc" stroke="#fff" stroke-width="0.6" stroke-linejoin="round"/>
<path d="M1274.0,383.1L1279.5,383.1L1282.2,391.3L1279.5,398.6L1284.9,406.0L1277.6,406.0L1273.1,395.0Z" fill="#8cb8e1" stroke="#fff" stroke-width="0.6" stroke-linejoin="round"/>
<path d="M1286.8,433.4L1297.7,427.9L1305.1,437.0L1301.4,444.4L1290.4,440.7Z" fill="#8cb8e1" stroke="#fff" stroke-width="0.6" stroke-linejoin="round"/>
<path d="M1277.6,407.8L1286.8,406.0L1297.7,415.1L1299.6,426.1L1288.6,427.9L1284.9,416.9Z" fill="#8cb8e1" stroke="#fff" stroke-width="0.6" stroke-linejoin="round"/>
<path d="M1266.7,430.6L1274.9,420.6L1273.1,426.1Z" fill="#8cb8e1" stroke="#fff" stroke-width="0.6" stroke-linejoin="round"/>
<path d="M1311.0,251.3L1315.1,254.6L1327.2,257.4L1330.9,261.5L1325.6,262.7L1325.2,266.7L1317.5,264.3L1315.1,269.2L1311.0,264.3L1314.2,260.3Z" fill="#dcdcdc" stroke="#fff" stroke-width="0.6" stroke-linejoin="round"/>
<path d="M1316.7,270.8L1320.7,270.8L1327.2,278.9L1326.8,285.4L1328.0,290.2L1330.4,297.5L1328.8,301.6L1324.0,301.6L1316.7,303.2L1314.2,306.4L1307.8,304.0L1301.3,304.8L1294.8,307.2L1292.4,309.7L1294.8,304.8L1300.5,299.1L1311.0,298.3L1311.8,291.8L1318.3,287.0L1319.1,278.9Z" fill="#dcdcdc" stroke="#fff" stroke-width="0.6" stroke-linejoin="round"/>
<path d="M1292.0,309.5L1299.3,307.7L1301.2,318.6L1296.6,320.5Z" fill="#dcdcdc" stroke="#fff" stroke-width="0.6" stroke-linejoin="round"/>
<path d="M1286.6,208.9L1292.5,212.4L1308.8,229.9L1313.5,246.3L1306.5,244.0L1297.1,227.6L1287.8,215.9Z" fill="#dcdcdc" stroke="#fff" stroke-width="0.6" stroke-linejoin="round"/>
<path d="M1184.9,115.4L1208.3,117.7L1227.0,120.1L1208.3,120.1Z" fill="#dcdcdc" stroke="#fff" stroke-width="0.6" stroke-linejoin="round"/>
<path d="M1040.0,99.0L1063.4,101.4L1077.4,106.0L1054.0,106.0Z" fill="#dcdcdc" stroke="#fff" stroke-width="0.6" stroke-linejoin="round"/>
<path d="M934.3,136.5L936.8,129.2L943.2,118.6L955.4,115.0L964.3,113.8L972.4,112.2L977.3,113.4L974.0,115.0L964.3,116.6L956.2,119.0L950.5,121.9L946.5,125.9L944.9,130.0L946.5,133.2L953.0,137.3L948.1,137.1L940.0,136.1Z" fill="#dcdcdc" stroke="#fff" stroke-width="0.6" stroke-linejoin="round"/>
<path d="M901.0,99.0L915.0,97.0L935.0,96.0L955.0,97.0L955.0,100.0L930.0,101.0L905.0,101.0Z" fill="#dcdcdc" stroke="#fff" stroke-width="0.6" stroke-linejoin="round"/>
<path d="M1034.0,98.4L1050.0,97.5L1050.0,103.1L1037.8,101.3Z" fill="#dcdcdc" stroke="#fff" stroke-width="0.6" stroke-linejoin="round"/>
<path d="M1174.3,445.6L1185.8,450.7L1203.7,468.6L1211.4,484.0L1219.1,489.1L1217.8,500.6L1208.8,494.2L1198.6,481.4L1188.4,466.0L1178.1,453.3Z" fill="#dcdcdc" stroke="#fff" stroke-width="0.6" stroke-linejoin="round"/>
<path d="M1217.8,503.1L1234.4,504.4L1252.3,509.5L1262.6,514.7L1260.0,517.2L1237.0,513.4L1221.6,508.3Z" fill="#dcdcdc" stroke="#fff" stroke-width="0.6" stroke-linejoin="round"/>
<path d="M1262.6,514.7L1283.0,514.7L1303.5,512.1L1298.4,517.2L1288.1,522.3L1277.9,521.0Z" fill="#dcdcdc" stroke="#fff" stroke-width="0.6" stroke-linejoin="round"/>
<path d="M1231.9,466.0L1239.5,467.3L1252.3,460.9L1267.7,452.0L1272.8,466.0L1267.7,473.7L1262.6,491.6L1247.2,489.1L1237.0,486.5L1233.1,476.3Z" fill="#dcdcdc" stroke="#fff" stroke-width="0.6" stroke-linejoin="round"/>
<path d="M1237.0,466.0L1252.3,457.1L1265.1,444.3L1275.4,446.9L1270.2,453.3L1257.4,458.4L1247.2,466.0Z" fill="#8cb8e1" stroke="#fff" stroke-width="0.6" stroke-linejoin="round"/>
<path d="M1275.4,471.2L1293.3,466.0L1298.4,468.6L1283.0,472.4L1280.5,478.8L1290.7,478.8L1283.0,484.0L1290.7,496.7L1283.0,499.3L1275.4,494.2Z" fill="#dcdcdc" stroke="#fff" stroke-width="0.6" stroke-linejoin="round"/>
<path d="M1326.5,476.3L1336.7,475.0L1354.7,481.4L1367.4,486.5L1367.4,517.2L1354.7,513.4L1352.1,507.0L1339.3,494.2L1331.6,489.1Z" fill="#dcdcdc" stroke="#fff" stroke-width="0.6" stroke-linejoin="round"/>
<path d="M1367.4,486.5L1385.4,496.7L1395.6,504.4L1390.5,509.5L1405.8,524.9L1393.0,522.3L1380.2,512.1L1375.1,517.2L1367.4,517.2Z" fill="#8cb8e1" stroke="#fff" stroke-width="0.6" stroke-linejoin="round"/>
<path d="M1398.1,501.9L1410.9,494.2L1418.6,496.7L1416.1,501.9L1400.7,503.1Z" fill="#8cb8e1" stroke="#fff" stroke-width="0.6" stroke-linejoin="round"/>
<path d="M1298.4,517.2L1306.1,514.7L1308.6,515.9L1300.9,518.5Z" fill="#8cb8e1" stroke="#fff" stroke-width="0.6" stroke-linejoin="round"/>
<path d="M1510.7,560.2L1515.8,558.1L1522.2,553.5L1514.5,562.0Z" fill="#8cb8e1" stroke="#fff" stroke-width="0.6" stroke-linejoin="round"/>
<path d="M1239.5,583.7L1257.4,573.5L1275.4,568.4L1283.0,555.6L1298.4,545.4L1308.6,545.4L1318.8,532.6L1329.1,530.0L1344.4,533.8L1339.3,545.4L1354.7,559.4L1362.3,550.5L1370.0,527.4L1375.1,542.8L1380.2,565.8L1388.3,572.9L1391.9,583.9L1397.4,593.0L1400.1,596.7L1396.5,609.5L1390.1,622.3L1380.9,635.1L1370.0,646.1L1362.6,657.0L1348.0,660.7L1344.4,664.4L1340.7,658.9L1333.4,663.4L1324.2,658.9L1325.2,649.7L1320.6,647.9L1313.3,649.7L1324.2,635.1L1311.4,642.4L1309.6,631.4L1300.5,627.8L1280.4,631.4L1267.5,636.9L1252.9,639.7L1240.1,645.2L1231.9,639.7L1236.5,629.6L1237.4,613.2L1235.5,602.2L1238.3,593.0L1243.8,580.2Z" fill="#8cb8e1" stroke="#fff" stroke-width="0.6" stroke-linejoin="round"/>
<path d="M1333.4,673.5L1346.2,673.5L1348.0,677.2L1338.9,684.5L1332.5,686.3Z" fill="#8cb8e1" stroke="#fff" stroke-width="0.6" stroke-linejoin="round"/>
<path d="M1461.4,643.3L1465.1,649.7L1463.2,657.0L1474.2,658.9L1466.9,664.4L1457.7,673.5L1450.4,676.2L1454.1,669.8L1452.3,666.2L1461.4,658.9Z" fill="#8cb8e1" stroke="#fff" stroke-width="0.6" stroke-linejoin="round"/>
<path d="M1402.9,698.0L1413.9,690.0L1430.3,682.6L1443.1,673.5L1446.8,675.3L1437.6,684.5L1424.8,691.8L1413.9,700.9Z" fill="#8cb8e1" stroke="#fff" stroke-width="0.6" stroke-linejoin="round"/>
<path d="M226.2,195.0L232.5,191.2L238.8,190.0L236.2,193.8L227.5,197.0Z" fill="#dcdcdc" stroke="#fff" stroke-width="0.6" stroke-linejoin="round"/>
<path d="M205.0,134.5L210.0,133.0L214.2,134.2L208.8,136.0Z" fill="#dcdcdc" stroke="#fff" stroke-width="0.6" stroke-linejoin="round"/>
<path d="M194.5,182.5L198.8,181.0L202.5,182.5L197.5,184.0Z" fill="#dcdcdc" stroke="#fff" stroke-width="0.6" stroke-linejoin="round"/>
<path d="M869.2,299.2L882.0,298.8L881.1,300.7L870.1,301.0Z" fill="#dcdcdc" stroke="#fff" stroke-width="0.6" stroke-linejoin="round"/>
<path d="M900.3,300.5L910.4,298.8L908.5,301.9L902.1,302.7Z" fill="#dcdcdc" stroke="#fff" stroke-width="0.6" stroke-linejoin="round"/>
<path d="M125.0,375.5L128.0,374.6L129.8,377.6L125.2,380.0Z" fill="#dcdcdc" stroke="#fff" stroke-width="0.6" stroke-linejoin="round"/>
<path d="M123.5,370.5L124.8,371.0L124.0,372.0Z" fill="#dcdcdc" stroke="#fff" stroke-width="0.6" stroke-linejoin="round"/>
<path d="M118.0,368.5L119.3,368.8L118.6,370.0Z" fill="#dcdcdc" stroke="#fff" stroke-width="0.6" stroke-linejoin="round"/>
<path d="M450.0,341.6L452.3,342.1L450.8,345.0Z" fill="#dcdcdc" stroke="#fff" stroke-width="0.6" stroke-linejoin="round"/>
<path d="M450.8,350.8L452.3,352.0L451.5,353.7Z" fill="#dcdcdc" stroke="#fff" stroke-width="0.6" stroke-linejoin="round"/>
<path d="M480.4,257.1L488.5,252.4L504.9,243.1" fill="none" stroke="#fff" stroke-width="1.2" stroke-linejoin="round"/>
<path d="M312.5,233.5L418.8,233.5" fill="none" stroke="#fff" stroke-width="0.8" stroke-linejoin="round"/>
<path d="M418.1,233.6L425.6,236.1L437.3,237.9" fill="none" stroke="#fff" stroke-width="0.8" stroke-linejoin="round"/>
<path d="M487.4,252.4L501.4,251.3L507.2,245.4L512.4,240.8L516.5,242.5L515.3,248.9L517.1,253.0" fill="none" stroke="#fff" stroke-width="0.8" stroke-linejoin="round"/>
<path d="M322.5,141.2L285.0,181.2" fill="none" stroke="#fff" stroke-width="0.8" stroke-linejoin="round"/>
<path d="M285.0,181.2L292.5,181.2L302.5,183.8L306.2,190.0L306.2,197.5L310.0,201.2L302.5,207.5" fill="none" stroke="#fff" stroke-width="0.8" stroke-linejoin="round"/>
<path d="M302.5,312.5L312.5,312.5L325.0,318.8L337.5,317.5L347.5,325.0L352.5,330.0L360.0,326.2L367.5,335.0L370.0,345.0L373.8,346.2" fill="none" stroke="#fff" stroke-width="0.8" stroke-linejoin="round"/>
<path d="M399.7,394.1L402.5,396.9L398.8,402.5L396.0,404.4" fill="none" stroke="#fff" stroke-width="0.8" stroke-linejoin="round"/>
<path d="M398.8,402.9L406.3,408.2L410.0,404.4L423.2,400.6" fill="none" stroke="#fff" stroke-width="0.8" stroke-linejoin="round"/>
<path d="M411.9,419.8L420.4,419.8" fill="none" stroke="#fff" stroke-width="0.8" stroke-linejoin="round"/>
<path d="M470.1,413.8L465.4,424.1L467.3,437.2L477.6,442.9L487.0,443.8L486.0,457.0L489.8,462.6L477.6,465.4L476.7,470.1L477.6,488.9L473.8,492.6" fill="none" stroke="#fff" stroke-width="0.9" stroke-linejoin="round"/>
<path d="M489.8,462.6L492.6,469.2L502.0,462.6L503.9,455.1L515.1,449.4L518.9,451.3" fill="none" stroke="#fff" stroke-width="0.9" stroke-linejoin="round"/>
<path d="M543.3,445.7L546.1,457.0L543.3,460.7L548.9,461.6L555.5,454.1" fill="none" stroke="#fff" stroke-width="0.9" stroke-linejoin="round"/>
<path d="M440.1,466.3L453.2,472.9L460.7,479.5L466.3,484.2L473.8,485.1L477.6,488.9" fill="none" stroke="#fff" stroke-width="0.9" stroke-linejoin="round"/>
<path d="M453.2,473.8L454.1,477.6L447.6,487.0L440.1,492.6L438.2,497.3L433.5,492.6" fill="none" stroke="#fff" stroke-width="0.9" stroke-linejoin="round"/>
<path d="M474.8,492.6L464.5,498.2L461.6,509.5L466.3,518.9L475.7,519.8L476.7,526.4L482.3,524.5L492.6,520.8L496.4,521.7L500.1,533.0L518.9,542.0" fill="none" stroke="#fff" stroke-width="0.9" stroke-linejoin="round"/>
<path d="M482.3,524.5L484.2,542.0" fill="none" stroke="#fff" stroke-width="0.9" stroke-linejoin="round"/>
<path d="M481.2,528.0L483.9,551.9L482.5,559.9" fill="none" stroke="#fff" stroke-width="0.9" stroke-linejoin="round"/>
<path d="M482.5,559.9L491.8,583.9L493.2,605.2L489.2,626.4L491.8,653.0L494.0,679.9L498.8,690.3L502.0,702.5L498.8,714.0L505.9,721.2L509.1,727.0L517.4,727.8L524.0,731.8" fill="none" stroke="#fff" stroke-width="0.9" stroke-linejoin="round"/>
<path d="M497.2,520.0L499.8,533.3L518.5,541.3L521.1,551.9L529.1,553.3L533.1,562.6L534.4,573.2" fill="none" stroke="#fff" stroke-width="0.9" stroke-linejoin="round"/>
<path d="M491.8,583.9L497.2,582.5L513.1,581.2L514.5,569.2L530.4,567.9L534.4,573.2L533.1,581.2L542.4,582.5L549.1,590.5L547.7,605.2L534.4,606.5L535.8,597.2L513.1,582.5" fill="none" stroke="#fff" stroke-width="0.9" stroke-linejoin="round"/>
<path d="M549.1,598.5L553.0,602.5L547.7,613.1L539.7,622.4" fill="none" stroke="#fff" stroke-width="0.9" stroke-linejoin="round"/>
<path d="M722.9,397.0L748.5,397.0L745.8,350.4" fill="none" stroke="#fff" stroke-width="0.9" stroke-linejoin="round"/>
<path d="M737.5,340.4L737.5,336.7L739.4,329.4L755.8,322.1L759.5,316.6L766.8,312.9L765.0,301.0" fill="none" stroke="#fff" stroke-width="0.9" stroke-linejoin="round"/>
<path d="M805.2,291.0L803.4,303.8L810.7,316.6L811.6,344.0L821.7,358.6L786.0,379.7" fill="none" stroke="#fff" stroke-width="0.9" stroke-linejoin="round"/>
<path d="M750.4,350.4L745.8,350.4" fill="none" stroke="#fff" stroke-width="0.9" stroke-linejoin="round"/>
<path d="M821.7,358.6L832.6,362.3L836.3,358.6" fill="none" stroke="#fff" stroke-width="0.9" stroke-linejoin="round"/>
<path d="M836.3,358.6L838.1,373.3L830.8,406.2L810.7,409.8L792.4,406.2L781.4,411.7L776.0,406.2L774.1,400.7" fill="none" stroke="#fff" stroke-width="0.9" stroke-linejoin="round"/>
<path d="M872.9,318.4L875.6,365.0L875.6,375.1L872.9,376.9" fill="none" stroke="#fff" stroke-width="0.9" stroke-linejoin="round"/>
<path d="M875.6,365.0L924.1,365.0" fill="none" stroke="#fff" stroke-width="0.9" stroke-linejoin="round"/>
<path d="M701.0,401.6L710.1,391.6L722.9,397.0L724.7,406.2L726.6,411.7L711.9,411.7L703.7,408.0" fill="none" stroke="#fff" stroke-width="0.9" stroke-linejoin="round"/>
<path d="M914.9,400.0L918.6,418.3L914.9,431.1" fill="none" stroke="#fff" stroke-width="0.9" stroke-linejoin="round"/>
<path d="M938.7,454.9L951.5,447.5L970.0,442.1" fill="none" stroke="#fff" stroke-width="0.9" stroke-linejoin="round"/>
<path d="M882.3,617.9L887.8,613.3L892.4,617.9L886.0,623.4L882.3,617.9" fill="none" stroke="#fff" stroke-width="0.9" stroke-linejoin="round"/>
<path d="M898.8,601.4L902.4,599.6L905.2,605.1L900.6,606.9L898.8,601.4" fill="none" stroke="#fff" stroke-width="0.9" stroke-linejoin="round"/>
<path d="M924.5,400.8L930.4,400.8L937.4,401.9L946.8,409.0L950.3,412.5" fill="none" stroke="#fff" stroke-width="0.9" stroke-linejoin="round"/>
<path d="M951.4,419.5L958.4,428.8L974.8,433.5L970.1,441.0" fill="none" stroke="#fff" stroke-width="0.9" stroke-linejoin="round"/>
<path d="M932.7,385.6L926.9,386.8L924.5,399.6L921.0,412.5L916.4,420.6L915.2,433.5" fill="none" stroke="#fff" stroke-width="0.9" stroke-linejoin="round"/>
<path d="M825.4,210.5L824.5,218.9L826.2,225.6L817.8,227.3L821.2,234.0L817.8,239.1L809.4,240.8L801.0,239.1L797.6,230.7L795.9,227.3" fill="none" stroke="#fff" stroke-width="0.8" stroke-linejoin="round"/>
<path d="M826.2,225.6L839.7,229.0L841.4,232.4L851.5,231.5L858.2,227.3L859.9,225.6" fill="none" stroke="#fff" stroke-width="0.8" stroke-linejoin="round"/>
<path d="M821.2,234.0L831.3,235.7L839.7,234.0" fill="none" stroke="#fff" stroke-width="0.8" stroke-linejoin="round"/>
<path d="M824.5,242.5L836.3,240.8L839.7,234.9" fill="none" stroke="#fff" stroke-width="0.8" stroke-linejoin="round"/>
<path d="M836.3,239.1L846.4,235.7L856.5,237.4" fill="none" stroke="#fff" stroke-width="0.8" stroke-linejoin="round"/>
<path d="M844.7,207.1L859.0,217.2L859.9,225.6" fill="none" stroke="#fff" stroke-width="0.8" stroke-linejoin="round"/>
<path d="M868.3,184.4L870.0,190.3L861.6,192.0L854.8,185.2" fill="none" stroke="#fff" stroke-width="0.8" stroke-linejoin="round"/>
<path d="M873.3,183.6L871.7,193.7L878.4,200.4" fill="none" stroke="#fff" stroke-width="0.8" stroke-linejoin="round"/>
<path d="M782.5,224.8L791.7,222.3L795.9,227.3L793.4,230.7" fill="none" stroke="#fff" stroke-width="0.8" stroke-linejoin="round"/>
<path d="M875.0,269.4L880.1,267.7" fill="none" stroke="#fff" stroke-width="0.8" stroke-linejoin="round"/>
<path d="M851.5,271.1L861.6,269.4" fill="none" stroke="#fff" stroke-width="0.8" stroke-linejoin="round"/>
<path d="M842.6,136.9L848.2,148.2L846.3,157.6" fill="none" stroke="#fff" stroke-width="0.8" stroke-linejoin="round"/>
<path d="M868.9,138.8L872.6,155.7L878.2,170.7L872.6,182.0" fill="none" stroke="#fff" stroke-width="0.8" stroke-linejoin="round"/>
<path d="M916.6,313.6L925.7,313.6L929.4,330.1L940.4,330.1L966.0,330.1" fill="none" stroke="#fff" stroke-width="0.8" stroke-linejoin="round"/>
<path d="M929.4,315.5L940.4,313.6L955.0,304.5" fill="none" stroke="#fff" stroke-width="0.8" stroke-linejoin="round"/>
<path d="M912.9,326.4L925.7,328.3" fill="none" stroke="#fff" stroke-width="0.8" stroke-linejoin="round"/>
<path d="M1081.2,295.4L1086.7,304.5L1088.5,311.8L1097.6,322.8L1114.1,331.9L1132.4,337.4L1145.2,337.4L1160.0,330.1" fill="none" stroke="#fff" stroke-width="0.8" stroke-linejoin="round"/>
<path d="M1131.3,337.4L1140.5,336.5L1147.8,332.8L1160.6,329.1L1166.1,334.6L1169.7,334.6" fill="none" stroke="#fff" stroke-width="0.8" stroke-linejoin="round"/>
<path d="M1133.2,341.9L1136.8,352.9L1146.0,354.7L1149.6,366.6" fill="none" stroke="#fff" stroke-width="0.8" stroke-linejoin="round"/>
<g fill="#3173c2">
<path d="M1431,790H1443V830H1431Z"/>
<path d="M1443,808.5L1453.2,790H1466.2L1455.8,808.5L1467,830H1454L1443,809Z"/>
<path d="M1469,790H1495.5V799H1481V806H1490.1V815H1481V830H1469Z"/>
<path d="M1498.4,790H1525.1V799H1510.5V806H1519.9V815H1510.5V830H1498.4Z"/>
</g>
</svg>
<div class="t" style="left:20px;top:8.3px;font-size:48px;color:#333;transform:scaleY(1.06);transform-origin:0 40.6px">Adult HIV Prevalence, 2019</div>
<div class="sw" style="top:516px;background:#dedede"></div>
<div class="sw" style="top:560px;background:#8cb8e1"></div>
<div class="sw" style="top:604px;background:#3375c3"></div>
<div class="sw" style="top:648px;background:#24578f"></div>
<div class="sw" style="top:692px;background:#163a62"></div>
<div class="lg" style="top:516.3px">N/A</div>
<div class="lg" style="top:560.3px">&lt;1% (82 countries)</div>
<div class="lg" style="top:604.3px">1-5% (29 countries)</div>
<div class="lg" style="top:648.3px">5-10% (3 countries)</div>
<div class="lg" style="top:692.3px">&gt;10% (8 countries)</div>
<div class="t" style="left:685px;top:700.1px;font-size:28px;font-weight:bold;color:#333;line-height:30.5px;transform:scaleY(1.07);transform-origin:0 24.9px">Global HIV Prevalence =<br>0.7%</div>
<div class="ft" style="top:788px">NOTE: Data are estimates. Prevalence includes adults ages 15-49</div>
<div class="ft" style="top:818px">SOURCE: <a>KFF, based on UNAIDS, AIDSInfo, Accessed December 2020.</a> • <a>PNG</a></div>
</body></html>
